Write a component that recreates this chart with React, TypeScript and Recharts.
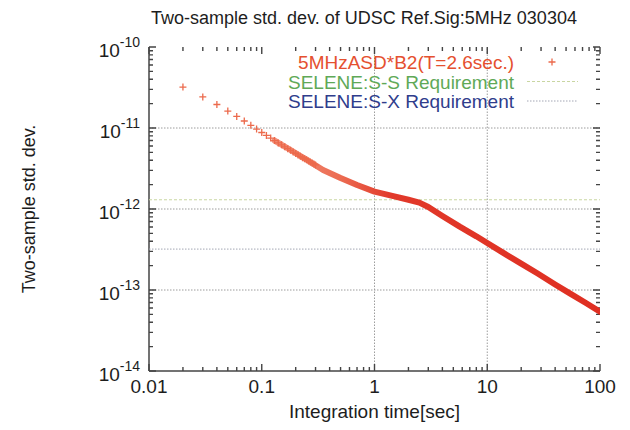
import React from "react";
import { ScatterChart, Scatter, XAxis, YAxis, ReferenceLine, Legend } from "recharts";

const FONT = '"Liberation Sans", Arial, Helvetica, sans-serif';
const AXIS = "#444";
const TICK = "#444";
const INK = "#1d1d1d";

// sparse start of the run: one cross per sample
const crossTau = [
  0.02, 0.03, 0.04, 0.05, 0.06, 0.07, 0.08, 0.09, 0.1, 0.11, 0.12, 0.13, 0.14, 0.15, 0.16,
  0.17, 0.18, 0.19, 0.2, 0.21, 0.22, 0.23, 0.24, 0.25, 0.26, 0.27, 0.28, 0.29, 0.3,
];
const crossSigma = [
  3.2e-11, 2.42e-11, 1.95e-11, 1.62e-11, 1.39e-11, 1.22e-11, 1.08e-11, 9.7e-12, 8.8e-12, 8.1e-12,
  7.5e-12, 7.0e-12, 6.55e-12, 6.2e-12, 5.85e-12, 5.55e-12, 5.3e-12, 5.05e-12, 4.85e-12, 4.65e-12,
  4.47e-12, 4.3e-12, 4.17e-12, 4.05e-12, 3.92e-12, 3.8e-12, 3.7e-12, 3.6e-12, 3.5e-12,
];

// dense part of the run, samples overlap into a band
const bandTau = [0.13, 0.18, 0.25, 0.35, 0.5, 0.7, 1, 1.5, 2, 2.5, 3, 4, 5.7, 8, 10, 14, 20, 28, 40, 54, 75, 100];
const bandSigma = [
  7.0e-12, 5.35e-12, 4.05e-12, 3.03e-12, 2.41e-12, 1.98e-12, 1.64e-12, 1.43e-12, 1.3e-12,
  1.2e-12, 1.06e-12, 8.2e-13, 6.05e-13, 4.6e-13, 3.8e-13, 2.85e-13, 2.12e-13, 1.6e-13, 1.17e-13,
  9.1e-14, 6.9e-14, 5.4e-14,
];

// SELENE requirement levels
const reqTau = [0.01, 100];
const ssRequirement = 1.3e-12;
const sxRequirement = 3.2e-13;

const xDecades = [0.01, 0.1, 1, 10, 100];
const yDecades = [1e-14, 1e-13, 1e-12, 1e-11, 1e-10];
const minorSteps = [2, 3, 4, 5, 6, 7, 8, 9];
const xGrid = [1, 10];
const yGrid = [1e-13, 1e-12, 1e-11];

const minorsOf = (decades: number[]) =>
  decades.slice(0, -1).flatMap((d) => minorSteps.map((m) => Number((d * m).toPrecision(3))));
const xMinor = minorsOf(xDecades);
const yMinor = minorsOf(yDecades);

const crossData = crossTau.map((tau, i) => ({ tau, sigma: crossSigma[i] }));
const bandData = bandTau.map((tau, i) => ({ tau, sigma: bandSigma[i] }));
const ssData = reqTau.map((tau) => ({ tau, sigma: ssRequirement }));
const sxData = reqTau.map((tau) => ({ tau, sigma: sxRequirement }));

const legendRows = [
  { name: "5MHzASD*B2(T=2.6sec.)", color: "#e5502f", kind: "cross" },
  { name: "SELENE:S-S Requirement", color: "#5fa957", kind: "dash" },
  { name: "SELENE:S-X Requirement", color: "#2f3d8c", kind: "dot" },
];

const X_DOMAIN: [number, number] = [0.01, 100];
const Y_DOMAIN: [number, number] = [1e-14, 1e-10];
const MAJOR = 7;
const MINOR = 4;

// a reference line reduced to two short inward stubs at both ends of the plot
const xTickPair = (len: number) => (p: any) => {
  const top = Math.min(p.y1, p.y2);
  const bottom = Math.max(p.y1, p.y2);
  const d = `M${p.x1},${top}V${top + len}M${p.x1},${bottom}V${bottom - len}`;
  return <path d={d} stroke={TICK} strokeWidth={1.4} fill="none" />;
};

const yTickPair = (len: number) => (p: any) => {
  const left = Math.min(p.x1, p.x2);
  const right = Math.max(p.x1, p.x2);
  const d = `M${left},${p.y1}H${left + len}M${right},${p.y1}H${right - len}`;
  return <path d={d} stroke={TICK} strokeWidth={1.4} fill="none" />;
};

const BottomLabel = ({ x, y, payload }: any) => (
  <text x={x} y={y + 22} textAnchor="middle" fontSize={19} fill={INK} fontFamily={FONT}>
    {String(payload.value)}
  </text>
);

const LeftLabel = ({ x, y, payload }: any) => (
  <text x={x - 9} y={y + 10} textAnchor="end" fill={INK} fontFamily={FONT}>
    <tspan fontSize={19}>10</tspan>
    <tspan fontSize={14} dy={-10}>{String(Math.round(Math.log10(payload.value)))}</tspan>
  </text>
);

const Cross = ({ cx, cy }: any) => (
  <path d={`M${cx - 3.5},${cy}H${cx + 3.5}M${cx},${cy - 3.5}V${cy + 3.5}`} stroke="#ec6a4c" strokeWidth={1.3} />
);
const NoMark = () => <g />;

const LegendBox = () => (
  <svg width={630} height={120} style={{ overflow: "visible" }}>
    {legendRows.map((r, i) => {
      const cy = 62 + i * 19.5;
      return (
        <g key={r.name}>
          <text x={514} y={cy + 7} textAnchor="end" fontSize={19} fill={r.color} fontFamily={FONT}>
            {r.name}
          </text>
          {r.kind === "cross" && (
            <path d={`M548.5,${cy}H555.5M552,${cy - 3.5}V${cy + 3.5}`} stroke="#ec6a4c" strokeWidth={1.3} />
          )}
          {r.kind === "dash" && (
            <line x1={527} x2={578} y1={cy} y2={cy} stroke="#c9d6a2" strokeDasharray="3 2" />
          )}
          {r.kind === "dot" && (
            <line x1={527} x2={578} y1={cy} y2={cy} stroke="#a3a6b4" strokeDasharray="1.5 1.5" />
          )}
        </g>
      );
    })}
  </svg>
);

const YTitle = ({ viewBox }: any) => {
  const cx = viewBox.x + 29;
  const cy = viewBox.y + viewBox.height / 2;
  return (
    <text x={cx} y={cy} transform={`rotate(-90, ${cx}, ${cy})`} textAnchor="middle" dominantBaseline="central" fontSize={18} fill={INK} fontFamily={FONT}>
      Two-sample std. dev.
    </text>
  );
};

const XTitle = ({ viewBox }: any) => (
  <text x={viewBox.x + viewBox.width / 2} y={viewBox.y + 47} textAnchor="middle" fontSize={19} fill={INK} fontFamily={FONT}>
    Integration time[sec]
  </text>
);

export default function App() {
  return (
    <div style={{ position: "absolute", left: 0, top: 0, width: 630, height: 430, background: "#fff" }}>
      <svg width={630} height={40} style={{ position: "absolute", left: 0, top: 0 }}>
        <text x={364} y={24} textAnchor="middle" fontSize={18} fill={INK} fontFamily={FONT}>
          Two-sample std. dev. of UDSC Ref.Sig:5MHz 030304
        </text>
      </svg>
      <ScatterChart width={630} height={430} margin={{ top: 47, right: 30, bottom: 0, left: 0 }}>
        <defs>
          <linearGradient id="bandFade" x1="0" y1="0" x2="1" y2="0">
            <stop offset="0" stopColor="#f2917c" />
            <stop offset="0.2" stopColor="#ec6c52" />
            <stop offset="0.36" stopColor="#e1392a" />
            <stop offset="1" stopColor="#df2f22" />
          </linearGradient>
        </defs>
        <XAxis
          xAxisId="b"
          type="number"
          dataKey="tau"
          scale="log"
          domain={X_DOMAIN}
          allowDataOverflow
          ticks={xDecades}
          interval={0}
          tickLine={false}
          tickSize={0}
          tickMargin={0}
          tick={<BottomLabel />}
          axisLine={{ stroke: AXIS, strokeWidth: 1.5 }}
          height={59}
          label={<XTitle />}
        />
        <XAxis
          xAxisId="t"
          orientation="top"
          type="number"
          scale="log"
          domain={X_DOMAIN}
          allowDataOverflow
          tick={false}
          tickLine={false}
          axisLine={{ stroke: AXIS, strokeWidth: 1.5 }}
          height={0}
        />
        <YAxis
          yAxisId="l"
          type="number"
          dataKey="sigma"
          scale="log"
          domain={Y_DOMAIN}
          allowDataOverflow
          ticks={yDecades}
          interval={0}
          tickLine={false}
          tickSize={0}
          tickMargin={0}
          tick={<LeftLabel />}
          axisLine={{ stroke: AXIS, strokeWidth: 1.5 }}
          width={149}
          label={<YTitle />}
        />
        <YAxis
          yAxisId="r"
          orientation="right"
          type="number"
          scale="log"
          domain={Y_DOMAIN}
          allowDataOverflow
          tick={false}
          tickLine={false}
          axisLine={{ stroke: AXIS, strokeWidth: 1.5 }}
          width={0}
        />
        {yGrid.map((v) => (
          <ReferenceLine key={`gy${v}`} xAxisId="b" yAxisId="l" y={v} stroke="#9c9c9c" strokeDasharray="1.5 1.5" />
        ))}
        {xGrid.map((v) => (
          <ReferenceLine key={`gx${v}`} xAxisId="b" yAxisId="l" x={v} stroke="#9c9c9c" strokeDasharray="1.5 1.5" />
        ))}
        {xDecades.map((v) => (
          <ReferenceLine key={`tx${v}`} xAxisId="b" yAxisId="l" x={v} ifOverflow="extendDomain" shape={xTickPair(MAJOR)} />
        ))}
        {xMinor.map((v) => (
          <ReferenceLine key={`mx${v}`} xAxisId="b" yAxisId="l" x={v} shape={xTickPair(MINOR)} />
        ))}
        {yDecades.map((v) => (
          <ReferenceLine key={`ty${v}`} xAxisId="b" yAxisId="l" y={v} ifOverflow="extendDomain" shape={yTickPair(MAJOR)} />
        ))}
        {yMinor.map((v) => (
          <ReferenceLine key={`my${v}`} xAxisId="b" yAxisId="l" y={v} shape={yTickPair(MINOR)} />
        ))}
        <Scatter
          name="SELENE:S-S Requirement"
          xAxisId="b"
          yAxisId="l"
          data={ssData}
          shape={NoMark}
          line={{ stroke: "#c9d6a2", strokeWidth: 1, strokeDasharray: "3 2" }}
          isAnimationActive={false}
        />
        <Scatter
          name="SELENE:S-X Requirement"
          xAxisId="b"
          yAxisId="l"
          data={sxData}
          shape={NoMark}
          line={{ stroke: "#a3a6b4", strokeWidth: 1, strokeDasharray: "1.5 1.5" }}
          isAnimationActive={false}
        />
        <Scatter
          name="5MHzASD*B2(T=2.6sec.) band"
          xAxisId="b"
          yAxisId="l"
          data={bandData}
          shape={NoMark}
          line={{ stroke: "url(#bandFade)", strokeWidth: 6, strokeLinejoin: "round", strokeLinecap: "round" }}
          isAnimationActive={false}
        />
        <Scatter
          name="5MHzASD*B2(T=2.6sec.)"
          xAxisId="b"
          yAxisId="l"
          data={crossData}
          shape={Cross}
          isAnimationActive={false}
        />
        <Legend
          layout="horizontal"
          verticalAlign="middle"
          align="center"
          content={<LegendBox />}
          wrapperStyle={{ left: 0, top: 0, width: 630, height: 0 }}
        />
      </ScatterChart>
    </div>
  );
}
